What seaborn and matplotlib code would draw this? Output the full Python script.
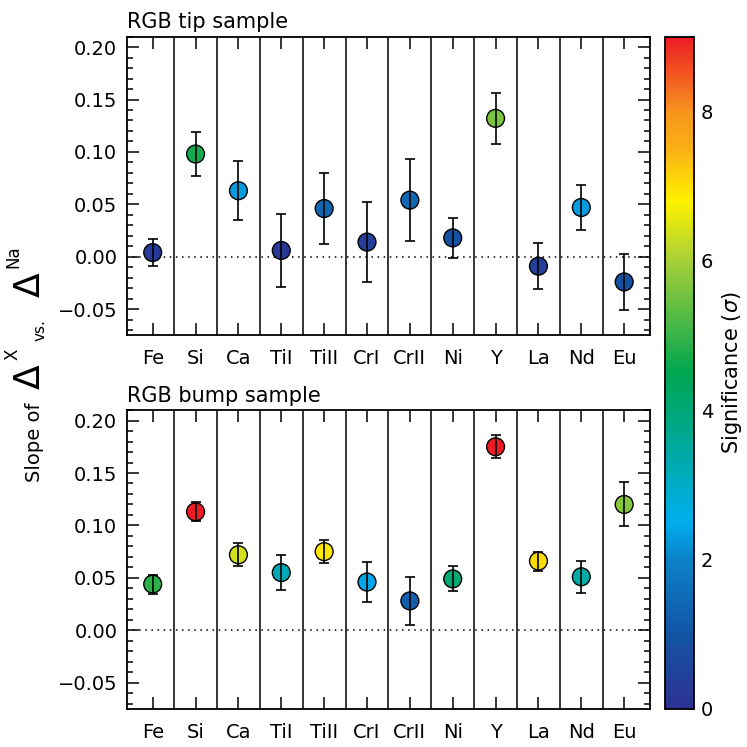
import numpy as np
import pandas as pd
import matplotlib
matplotlib.use("Agg")
import matplotlib.pyplot as plt
import seaborn as sns
from matplotlib.colors import LinearSegmentedColormap, Normalize
from matplotlib.ticker import MultipleLocator

# elementos
elementos = ['Fe', 'Si', 'Ca', 'TiI', 'TiII', 'CrI', 'CrII', 'Ni', 'Y', 'La', 'Nd', 'Eu']

# RGB tip
tip_slope = [0.004, 0.098, 0.063, 0.006, 0.046, 0.014, 0.054, 0.018, 0.132, -0.009, 0.047, -0.024]
tip_err = [0.013, 0.021, 0.028, 0.035, 0.034, 0.038, 0.039, 0.019, 0.024, 0.022, 0.021, 0.027]
tip_sig = [0.3, 4.7, 2.3, 0.2, 1.4, 0.4, 1.4, 0.9, 5.6, 0.4, 2.3, 0.9]

# RGB bump
bump_slope = [0.044, 0.113, 0.072, 0.055, 0.075, 0.046, 0.028, 0.049, 0.175, 0.066, 0.051, 0.120]
bump_err = [0.009, 0.009, 0.011, 0.017, 0.011, 0.019, 0.023, 0.012, 0.011, 0.009, 0.015, 0.021]
bump_sig = [4.9, 9.0, 6.4, 3.2, 6.9, 2.4, 1.2, 4.1, 9.0, 7.0, 3.4, 5.7]

# colormap tipo rainbow do IDL
cores = [(0.0, '#2e3192'), (1.0 / 9, '#1255a5'), (2.0 / 9, '#0b82c8'), (2.5 / 9, '#00aeef'),
         (3.5 / 9, '#00a99d'), (4.5 / 9, '#00a651'), (6.0 / 9, '#a6cf38'), (6.8 / 9, '#fff200'),
         (7.5 / 9, '#fbb117'), (8.0 / 9, '#f7941d'), (1.0, '#ed1c24')]
cmap = LinearSegmentedColormap.from_list('idl', cores)
norm = Normalize(0, 9)

sns.set_style('ticks')
plt.rcParams['font.family'] = ['DejaVu Sans']
plt.rcParams['xtick.direction'] = 'in'
plt.rcParams['ytick.direction'] = 'in'
for k in ['text.color', 'axes.labelcolor', 'xtick.color', 'ytick.color', 'axes.edgecolor']:
    plt.rcParams[k] = 'black'

fig = plt.figure(figsize=(7.47, 7.47), dpi=100)
ax1 = fig.add_axes([0.170, 0.551, 0.700, 0.400])
ax2 = fig.add_axes([0.170, 0.051, 0.700, 0.400])
cax = fig.add_axes([0.890, 0.051, 0.039, 0.900])

paineis = [(ax1, tip_slope, tip_err, tip_sig, 'RGB tip sample'),
           (ax2, bump_slope, bump_err, bump_sig, 'RGB bump sample')]

x = np.arange(len(elementos))
for ax, slope, err, sig, titulo in paineis:
    df = pd.DataFrame({'x': x, 'slope': slope, 'err': err, 'sig': sig})
    for xv in x[:-1] + 0.5:
        ax.axvline(xv, color='black', lw=1.1, zorder=1)
    ax.axhline(0, color='black', lw=1.1, ls=(0, (1, 3)), zorder=1)
    sns.scatterplot(data=df, x='x', y='slope', hue='sig', palette=cmap, hue_norm=norm,
                    s=165, edgecolor='black', linewidth=1.0, legend=False, ax=ax, zorder=3)
    ax.errorbar(df['x'], df['slope'], yerr=df['err'], fmt='none', ecolor='black',
                elinewidth=1.2, capsize=3.5, capthick=1.2, zorder=4)
    ax.set_xlim(-0.6, 11.6)
    ax.set_ylim(-0.075, 0.21)
    ax.set_xticks(x)
    ax.set_xticklabels(elementos)
    ax.yaxis.set_major_locator(MultipleLocator(0.05))
    ax.yaxis.set_minor_locator(MultipleLocator(0.01))
    ax.set_yticks([-0.05, 0.0, 0.05, 0.10, 0.15, 0.20])
    ax.set_yticklabels(['\u22120.05', '0.00', '0.05', '0.10', '0.15', '0.20'])
    ax.tick_params(axis='both', which='major', length=8.5, width=1.1, labelsize=14,
                   top=True, right=True, pad=7)
    ax.tick_params(axis='y', which='minor', length=4.5, width=1.1, left=True, right=True)
    ax.tick_params(axis='x', which='major', pad=10)
    ax.set_xlabel('')
    ax.set_ylabel('')
    for sp in ax.spines.values():
        sp.set_linewidth(1.3)
    ax.set_title(titulo, loc='left', fontsize=15, pad=6)

# colorbar
sm = plt.cm.ScalarMappable(cmap=cmap, norm=norm)
cb = fig.colorbar(sm, cax=cax)
cb.set_ticks([0, 2, 4, 6, 8])
cb.ax.yaxis.set_minor_locator(MultipleLocator(1))
cb.ax.tick_params(which='major', direction='in', length=5, width=1.1, labelsize=14, pad=5)
cb.ax.tick_params(which='minor', direction='in', length=3, width=1.1)
cb.outline.set_linewidth(1.3)
cb.set_label('Significance ($\\sigma$)', fontsize=15, labelpad=5)

# label do eixo y composto
fig.text(35 / 747, 1 - 442 / 747, 'Slope of', rotation=90, fontsize=14, ha='center', va='center')
fig.text(30 / 747, 1 - 377 / 747, '\u0394', rotation=90, fontsize=26, ha='center', va='center')
fig.text(13 / 747, 1 - 354 / 747, 'X', rotation=90, fontsize=12, ha='center', va='center')
fig.text(40 / 747, 1 - 330 / 747, 'vs.', rotation=90, fontsize=11, ha='center', va='center')
fig.text(30 / 747, 1 - 285 / 747, '\u0394', rotation=90, fontsize=26, ha='center', va='center')
fig.text(13 / 747, 1 - 257 / 747, 'Na', rotation=90, fontsize=12, ha='center', va='center')

fig.savefig('out.png', dpi=100)
